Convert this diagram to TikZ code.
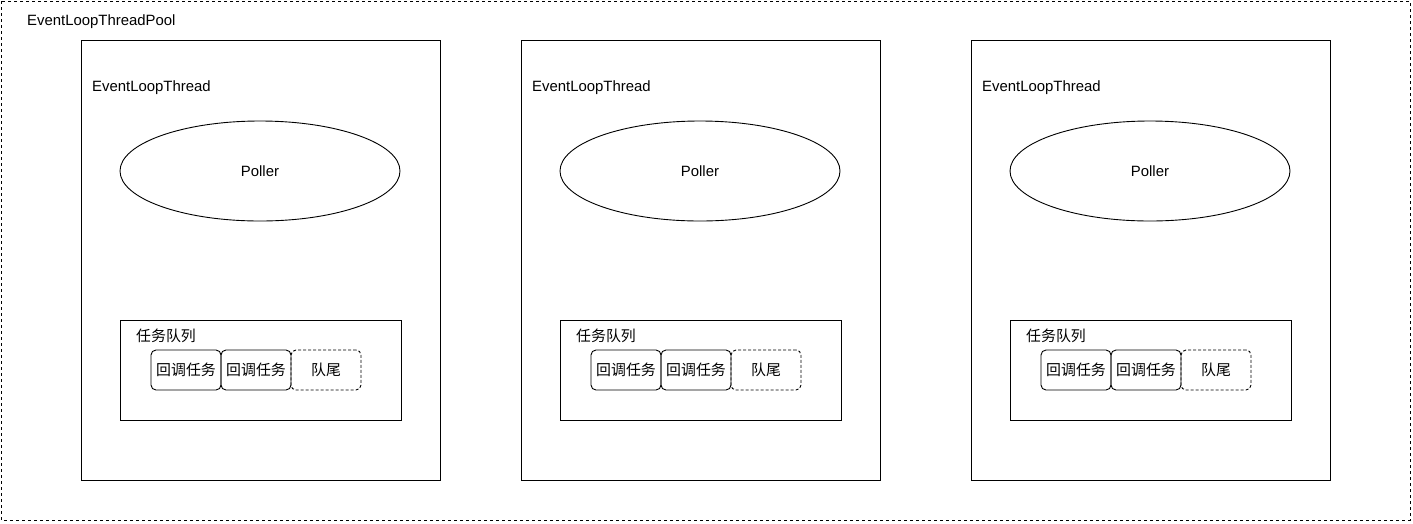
\documentclass[tikz,border=0pt]{standalone}
\usepackage{fontspec}
\setmainfont{Liberation Sans}
\newfontfamily\cjk{Noto Sans CJK SC}
\usetikzlibrary{shapes.geometric}
\tikzset{
  px/.style={x=1pt,y=-1pt},
  lbl/.style={anchor=west,inner sep=0pt,font=\fontsize{14.9}{17}\selectfont},
  pool/.style={draw,dashed,line width=0.9pt,dash pattern=on 3pt off 3pt},
  threadbox/.style={draw,line width=0.9pt},
  poller/.style={draw,ellipse,line width=0.9pt,minimum width=280pt,minimum height=100pt,inner sep=0pt,font=\fontsize{14.9}{17}\selectfont},
  queuebox/.style={draw,line width=0.9pt},
  task/.style={draw,rounded corners=5pt,line width=0.9pt,minimum width=70pt,minimum height=40pt,inner sep=0pt,font=\cjk\fontsize{14.9}{17}\selectfont},
  tailtask/.style={task,dashed,dash pattern=on 3pt off 2pt},
}
\begin{document}
\begin{tikzpicture}[px]
\useasboundingbox (0,0) rectangle (1413,523);
\draw[pool] (1,1) rectangle (1410,520);
\node[lbl] (poollbl) at (27,22) {EventLoopThreadPool};
\foreach \i/\bx/\qx in {1/81/120, 2/521/560, 3/971/1010}{
  \draw[threadbox] (\bx,40) rectangle ++(359,440);
  \node[lbl] (tl\i) at ({\bx+11},87.5) {EventLoopThread};
  \node[poller] (poller\i) at ({\qx+140},171) {Poller};
  \draw[queuebox] (\qx,320) rectangle ++(281,100);
  \node[lbl,font=\cjk\fontsize{14.9}{17}\selectfont] (ql\i) at ({\qx+16},335.5) {任务队列};
  \node[task] (ta\i) at ({\qx+66},370) {回调任务};
  \node[task] (tb\i) at ({\qx+136},370) {回调任务};
  \node[tailtask] (tc\i) at ({\qx+206},370) {队尾};
}
\end{tikzpicture}
\end{document}
